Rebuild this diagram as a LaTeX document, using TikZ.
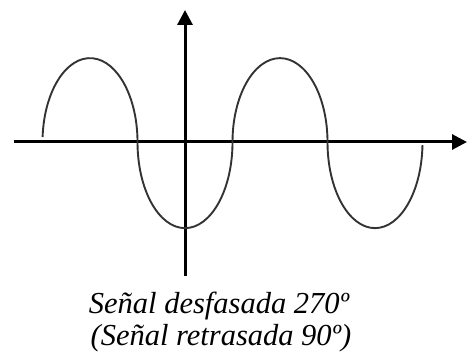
\documentclass[tikz,border=0pt]{standalone}
\usepackage{fontspec}
\setmainfont{Liberation Serif}
\usetikzlibrary{arrows.meta}
\begin{document}
\begin{tikzpicture}[x=1pt,y=-1pt,
  axis/.style={line width=3pt,-{Triangle[length=15pt,width=15pt]}},
  wave/.style={line width=1.9pt,black!80},
  caption/.style={font=\fontsize{30.5}{32}\selectfont\itshape,inner sep=0pt,anchor=base}]
  \useasboundingbox (0,0) rectangle (467,353);
  % ---------- axes ----------
  \coordinate (xstart) at (14,142);
  \coordinate (xend) at (467,142);
  \coordinate (ystart) at (185,276);
  \coordinate (yend) at (185,10);
  \draw[axis] (xstart) -- (xend);
  \draw[axis] (ystart) -- (yend);
  % ---------- signal (half ellipses) ----------
  \draw[wave] (42.6,137) arc[start angle=176.5,end angle=0,x radius=47.5,y radius=-84]
    arc[start angle=180,end angle=360,x radius=47.5,y radius=-86]
    arc[start angle=180,end angle=0,x radius=47.5,y radius=-84]
    arc[start angle=180,end angle=358,x radius=47.5,y radius=-86];
  % ---------- caption ----------
  \node[caption] (line1) at (219,313) {Señal desfasada 270º};
  \node[caption] (line2) at (221,345) {(Señal retrasada 90º)};
\end{tikzpicture}
\end{document}
